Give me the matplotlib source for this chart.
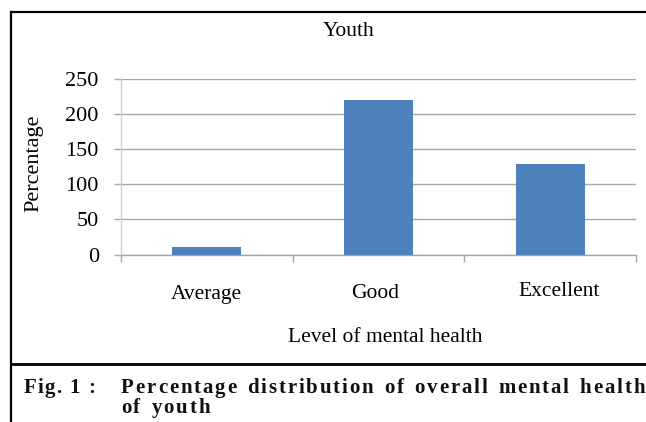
import matplotlib
matplotlib.use("Agg")
import matplotlib.pyplot as plt
import matplotlib.transforms as mtransforms
from matplotlib.lines import Line2D

# ---- data ----
categories = ["Average", "Good", "Excellent"]
values = [10, 220, 129]
y_ticks = [0, 50, 100, 150, 200, 250]
title = "Youth"
x_title = "Level of mental health"
y_title = "Percentage"
caption_label = "Fig. 1 :"
caption_lines = ["Percentage distribution of overall mental health", "of youth"]

# ---- layout ----
W, H = 646, 422
DPI = 100
SERIF = ["Liberation Serif", "DejaVu Serif"]
label_dx = [0.0, -0.02, 0.055]      # small horizontal offsets of category labels
label_y = [295, 293, 291]           # pixel rows of category labels

fig = plt.figure(figsize=(W / DPI, H / DPI), dpi=DPI)
fig.patch.set_facecolor("white")

def fx(px):
    return px / W

def fy(py):
    return 1 - py / H

ax = fig.add_axes([fx(121), fy(254.5), fx(636) - fx(121), fy(79) - fy(254.5)])
x = list(range(len(categories)))
ax.bar(x, values, width=0.40, color="#4F81BD", zorder=3)
ax.set_xlim(-0.5, len(categories) - 0.5)
ax.set_ylim(0, 250)
ax.set_yticks(y_ticks)
ax.set_yticklabels([str(v) for v in y_ticks], fontfamily=SERIF, fontsize=16)
ax.tick_params(axis="y", length=5, width=1, color="#a6a6a6", pad=11)
ax.yaxis.grid(True, color="#a6a6a6", linewidth=1, zorder=0)
ax.set_xticks([i - 0.5 for i in range(len(categories) + 1)])
ax.set_xticklabels([])
ax.tick_params(axis="x", length=5, width=1, color="#a6a6a6", direction="out")
for side in ["top", "right"]:
    ax.spines[side].set_visible(False)
ax.spines["left"].set_color("#d0d0d0")
ax.spines["bottom"].set_color("#a6a6a6")
ax.spines["left"].set_linewidth(1)
ax.spines["bottom"].set_linewidth(1)

blend = mtransforms.blended_transform_factory(ax.transData, fig.transFigure)
for i, c in enumerate(categories):
    ax.text(i + label_dx[i], fy(label_y[i]), c, transform=blend, ha="center", va="center",
            fontfamily=SERIF, fontsize=15.5, clip_on=False)

fig.text(fx(349), fy(31), title, ha="center", va="center", fontfamily=SERIF, fontsize=15.5)
fig.text(fx(385), fy(337), x_title, ha="center", va="center", fontfamily=SERIF, fontsize=15.5)
fig.text(fx(34), fy(163), y_title, ha="center", va="center", rotation=90,
         fontfamily=SERIF, fontsize=16)

# frame
lw = 1.6
fig.add_artist(Line2D([fx(11), fx(11)], [fy(12), fy(425)], color="black", lw=lw, transform=fig.transFigure))
fig.add_artist(Line2D([fx(11), fx(650)], [fy(12), fy(12)], color="black", lw=lw, transform=fig.transFigure))
fig.add_artist(Line2D([fx(11), fx(650)], [fy(364), fy(364)], color="black", lw=2.0, transform=fig.transFigure))

# caption with letter spacing
renderer = fig.canvas.get_renderer()

def spaced(x_px, base_px, s, size, ls, ws):
    px = x_px
    size_px = size * DPI / 72
    for ch in s:
        if ch == " ":
            px += 0.25 * size_px + ws
            continue
        t = fig.text(fx(px), fy(base_px), ch, ha="left", va="baseline",
                     fontfamily=SERIF, fontweight="bold", fontsize=size, color="#111111")
        px += t.get_window_extent(renderer).width + ls
    return px

CAP = 15
spaced(24, 393, caption_label, CAP, 1.2, 1.5)
spaced(121, 393, caption_lines[0], CAP, 1.85, 4)
spaced(121, 413, caption_lines[1], CAP, 1.85, 4)

fig.savefig("out.png", dpi=DPI)
